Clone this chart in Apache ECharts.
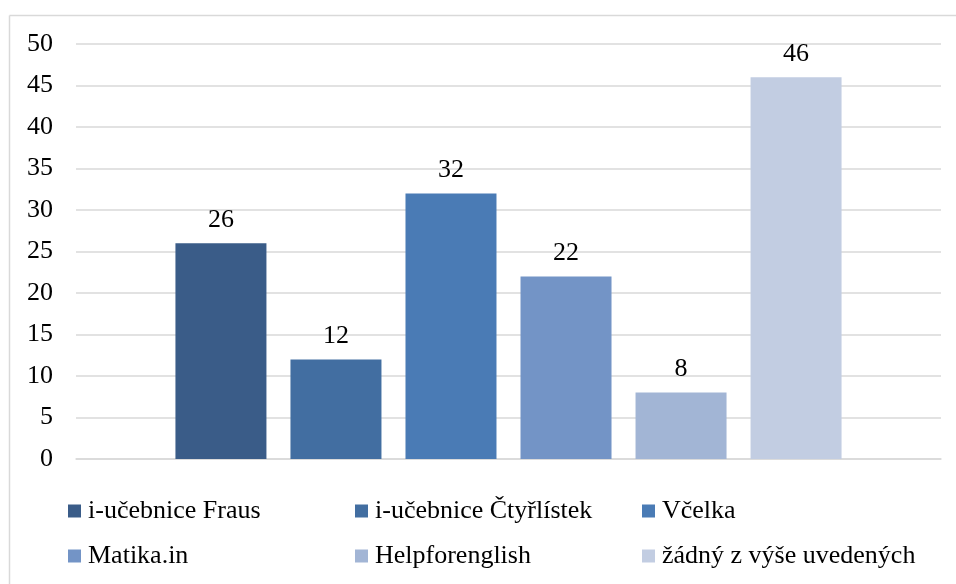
<!DOCTYPE html>
<html>
<head>
<meta charset="utf-8">
<script src="https://cdn.jsdelivr.net/npm/echarts@6/dist/echarts.min.js"></script>
<style>
  html, body { margin: 0; padding: 0; background: #fff; overflow: hidden; }
  #chart { width: 956px; height: 584px; }
</style>
</head>
<body>
<div id="chart"></div>
<script>
// Survey answers: which digital resources are used
const seriesNames = [
  'i-učebnice Fraus',
  'i-učebnice Čtyřlístek',
  'Včelka',
  'Matika.in',
  'Helpforenglish',
  'žádný z výše uvedených'
];
const seriesValues = [26, 12, 32, 22, 8, 46];
const seriesColors = ['#3A5C88', '#426EA1', '#4A7BB5', '#7394C6', '#A2B5D5', '#C2CDE2'];
const yTicks = { min: 0, max: 50, interval: 5 };

const fontFamily = '"Liberation Serif", "Times New Roman", serif';

const chart = echarts.init(document.getElementById('chart'), null, { renderer: 'canvas' });

const series = seriesNames.map((name, i) => ({
  name: name,
  type: 'bar',
  data: [seriesValues[i]],
  barWidth: 91,
  barGap: '26.4%',
  itemStyle: { color: seriesColors[i] },
  label: {
    show: true,
    position: 'top',
    distance: 10,
    color: '#000',
    fontFamily: fontFamily,
    fontSize: 26
  },
  emphasis: { disabled: true }
}));

chart.setOption({
  animation: false,
  backgroundColor: '#fff',
  graphic: [
    {
      type: 'line',
      shape: { x1: 9.5, y1: 15.5, x2: 956, y2: 15.5 },
      style: { stroke: '#d9d9d9', lineWidth: 1.5 },
      silent: true
    },
    {
      type: 'line',
      shape: { x1: 9.5, y1: 15.5, x2: 9.5, y2: 584 },
      style: { stroke: '#d9d9d9', lineWidth: 1.5 },
      silent: true
    }
  ],
  grid: { left: 76, right: 15, top: 44, bottom: 125, containLabel: false },
  xAxis: {
    type: 'category',
    data: [''],
    axisLine: { show: true, lineStyle: { color: '#d9d9d9', width: 1.5 } },
    axisTick: { show: false },
    axisLabel: { show: false }
  },
  yAxis: {
    type: 'value',
    min: yTicks.min,
    max: yTicks.max,
    interval: yTicks.interval,
    axisLine: { show: false },
    axisTick: { show: false },
    splitLine: { lineStyle: { color: '#d9d9d9', width: 1.5 } },
    axisLabel: {
      color: '#000',
      fontFamily: fontFamily,
      fontSize: 26,
      margin: 23
    }
  },
  legend: {
    data: seriesNames,
    left: 63,
    top: 488,
    width: 890,
    orient: 'horizontal',
    icon: 'rect',
    itemWidth: 13,
    itemHeight: 13,
    itemGap: 9,
    selectedMode: false,
    textStyle: {
      color: '#000',
      fontFamily: fontFamily,
      fontSize: 26,
      width: 258,
      lineHeight: 36,
      padding: [0, 0, 0, 2]
    }
  },
  series: series
});
</script>
</body>
</html>
